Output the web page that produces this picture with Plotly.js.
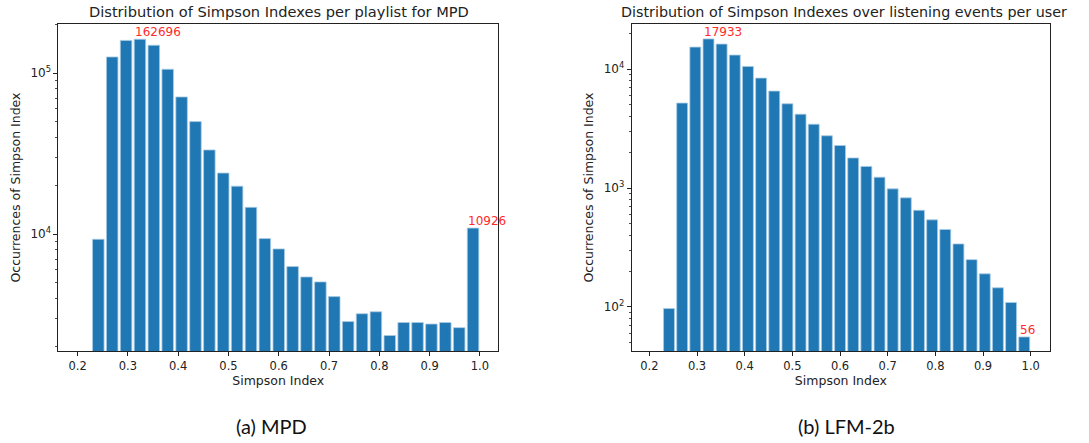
<!DOCTYPE html>
<html>
<head>
<meta charset="utf-8">
<script src="https://cdn.plot.ly/plotly-3.0.1.min.js"></script>
<style>html,body{margin:0;padding:0;background:#fff;}#chart{width:1089px;height:443px;}</style>
</head>
<body>
<div id="chart"></div>
<script>
// Bin centers (Simpson Index)
const binCenters = [0.2412, 0.2688, 0.2964, 0.3240, 0.3516, 0.3792, 0.4068, 0.4344, 0.4620, 0.4896,
  0.5172, 0.5448, 0.5724, 0.6000, 0.6276, 0.6552, 0.6828, 0.7104, 0.7380, 0.7656,
  0.7932, 0.8208, 0.8484, 0.8760, 0.9036, 0.9312, 0.9588, 0.9864];

// MPD: occurrences per bin
const mpdCounts = [9310, 126300, 160000, 162696, 149300, 105900, 71300, 50100, 33400, 24000,
  19900, 14700, 9400, 8110, 6300, 5430, 5060, 4100, 2870, 3210,
  3300, 2350, 2830, 2830, 2770, 2830, 2630, 10926];

// LFM-2b: occurrences per bin
const lfmCounts = [97, 5180, 15300, 17933, 16230, 13120, 10530, 8400, 6530, 5110,
  4180, 3440, 2750, 2280, 1790, 1520, 1233, 984, 827, 650,
  540, 448, 339, 250, 190, 145, 109, 56];

// Labels
const titleMPD = "Distribution of Simpson Indexes per playlist for MPD";
const titleLFM = "Distribution of Simpson Indexes over listening events per user";
const captionMPD = "(a) MPD";
const captionLFM = "(b) LFM-2b";
const xTitle = "Simpson Index";
const yTitle = "Occurrences of Simpson Index";
const xTickVals = [0.2, 0.3, 0.4, 0.5, 0.6, 0.7, 0.8, 0.9, 1.0];
const xTickText = ["0.2", "0.3", "0.4", "0.5", "0.6", "0.7", "0.8", "0.9", "1.0"];
const mpdYTickVals = [10000, 100000];
const mpdYTickText = ["10<sup>4</sup>", "10<sup>5</sup>"];
const mpdYMinor = [2000, 3000, 4000, 5000, 6000, 7000, 8000, 9000, 20000, 30000, 40000, 50000, 60000, 70000, 80000, 90000, 200000];
const lfmYTickVals = [100, 1000, 10000];
const lfmYTickText = ["10<sup>2</sup>", "10<sup>3</sup>", "10<sup>4</sup>"];
const lfmYMinor = [50, 60, 70, 80, 90, 200, 300, 400, 500, 600, 700, 800, 900, 2000, 3000, 4000, 5000, 6000, 7000, 8000, 9000, 20000];

// Which bars are annotated (indices)
const mpdAnnot = [3, 27];
const lfmAnnot = [3, 27];

const barColor = '#1f77b4';
const font = 'DejaVu Sans, sans-serif';

const traces = [
  {type: 'bar', x: binCenters, y: mpdCounts, xaxis: 'x', yaxis: 'y',
   marker: {color: barColor, line: {color: '#a9cbe3', width: 0.8}}, hoverinfo: 'x+y'},
  {type: 'bar', x: binCenters, y: lfmCounts, xaxis: 'x2', yaxis: 'y2',
   marker: {color: barColor, line: {color: '#a9cbe3', width: 0.8}}, hoverinfo: 'x+y'}
];

function xAxis(domain, anchor, range) {
  return {
    domain: domain, anchor: anchor, range: range,
    tickmode: 'array', tickvals: xTickVals, ticktext: xTickText,
    ticks: 'outside', ticklen: 4, tickwidth: 1, tickcolor: '#222',
    showline: true, mirror: true, linecolor: '#222', linewidth: 1,
    showgrid: false, zeroline: false,
    tickfont: {family: font, size: 11.5, color: '#222'},
    title: {text: xTitle, font: {family: font, size: 12.5, color: '#222'}, standoff: 3}
  };
}
function yAxis(domain, anchor, range, tv, tt, minor) {
  return {
    domain: domain, anchor: anchor, type: 'log', range: range,
    tickmode: 'array', tickvals: tv, ticktext: tt,
    ticks: 'outside', ticklen: 4, tickwidth: 1, tickcolor: '#222',
    minor: {tickmode: 'array', tickvals: minor, ticks: 'outside', ticklen: 2, tickwidth: 0.8, tickcolor: '#222', showgrid: false},
    showline: true, mirror: true, linecolor: '#222', linewidth: 1,
    showgrid: false, zeroline: false,
    tickfont: {family: font, size: 12, color: '#222'},
    title: {text: yTitle, font: {family: font, size: 12.5, color: '#222'}, standoff: 7}
  };
}

const annotations = [];
mpdAnnot.forEach(i => annotations.push({
  xref: 'x', yref: 'y', x: binCenters[i], y: Math.log10(mpdCounts[i]),
  text: String(mpdCounts[i]), showarrow: false, xanchor: 'left', yanchor: 'bottom',
  xshift: -7, yshift: -2, font: {family: font, size: 12, color: '#ff2a2a'}
}));
lfmAnnot.forEach(i => annotations.push({
  xref: 'x2', yref: 'y2', x: binCenters[i], y: Math.log10(lfmCounts[i]),
  text: String(lfmCounts[i]), showarrow: false, xanchor: 'left', yanchor: 'bottom',
  xshift: -6, yshift: -2, font: {family: font, size: 12, color: '#ff2a2a'}
}));
annotations.push({xref: 'paper', yref: 'paper', x: 0.2563, y: 0.974, text: titleMPD, showarrow: false,
  xanchor: 'center', yanchor: 'middle', font: {family: font, size: 14.6, color: '#222'}});
annotations.push({xref: 'paper', yref: 'paper', x: 0.775, y: 0.974, text: titleLFM, showarrow: false,
  xanchor: 'center', yanchor: 'middle', font: {family: font, size: 14.3, color: '#222'}});
annotations.push({xref: 'paper', yref: 'paper', x: 0.2495, y: 0.038, text: captionMPD, showarrow: false,
  xanchor: 'center', yanchor: 'middle', font: {family: 'Lato, sans-serif', size: 20, color: '#111'}});
annotations.push({xref: 'paper', yref: 'paper', x: 0.7769, y: 0.038, text: captionLFM, showarrow: false,
  xanchor: 'center', yanchor: 'middle', font: {family: 'Lato, sans-serif', size: 20, color: '#111'}});

const layout = {
  width: 1089, height: 443,
  margin: {l: 0, r: 0, t: 0, b: 0},
  paper_bgcolor: '#fff', plot_bgcolor: '#fff',
  showlegend: false, bargap: 0.17,
  xaxis: xAxis([0.0537, 0.4573], 'y', [0.162, 1.036]),
  yaxis: yAxis([0.2077, 0.9458], 'x', [3.275, 5.306], mpdYTickVals, mpdYTickText, mpdYMinor),
  xaxis2: xAxis([0.5801, 0.9642], 'y2', [0.163, 1.0405]),
  yaxis2: yAxis([0.2077, 0.9458], 'x2', [1.630, 4.379], lfmYTickVals, lfmYTickText, lfmYMinor),
  annotations: annotations
};

Plotly.newPlot('chart', traces, layout, {displayModeBar: false, staticPlot: true});
</script>
</body>
</html>
